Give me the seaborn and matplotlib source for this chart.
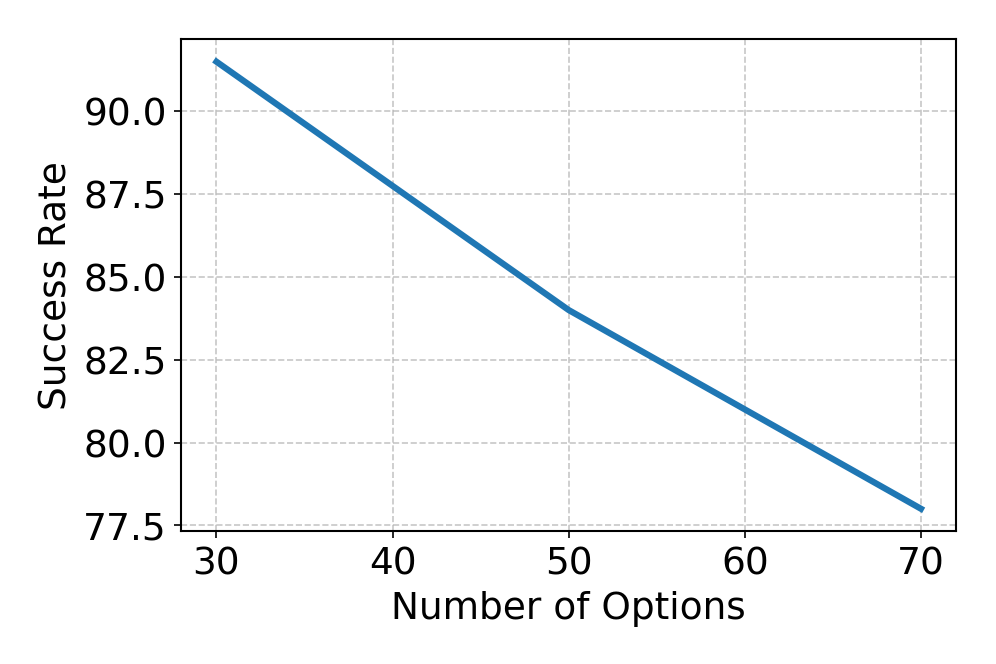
import seaborn as sns
import matplotlib.pyplot as plt
import pandas as pd

num_options = [30, 40, 50, 60, 70]
success_rate = [91.5, 87.75, 84.0, 81.0, 78.0]

df = pd.DataFrame({"Number of Options": num_options, "Success Rate": success_rate})

sns.set_style("ticks")
plt.rcParams['font.family'] = ['DejaVu Sans']

fig, ax = plt.subplots(figsize=(6.64, 4.43), dpi=150)
sns.lineplot(data=df, x="Number of Options", y="Success Rate", color="#1f77b4",
             linewidth=3, solid_capstyle='projecting', ax=ax)
ax.grid(True, linestyle='--', color='#b0b0b0', alpha=0.7)
ax.set_xlabel("Number of Options", fontsize=18, color='black')
ax.set_ylabel("Success Rate", fontsize=18, color='black')
ax.tick_params(labelsize=18, colors='black')
for s in ax.spines.values():
    s.set_color('black')
    s.set_linewidth(1)
ax.set_xticks(num_options)
plt.subplots_adjust(left=0.182, right=0.960, top=0.940, bottom=0.200)
plt.savefig("out.png", dpi=150)
